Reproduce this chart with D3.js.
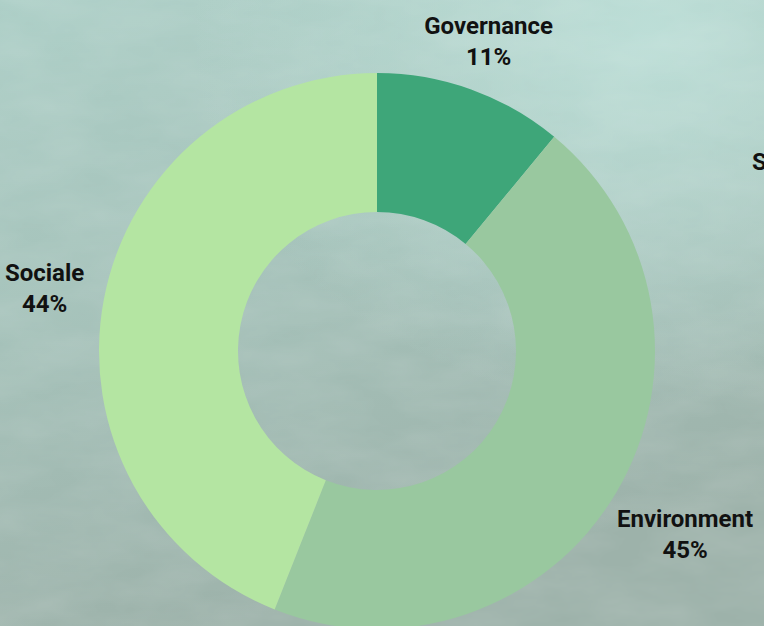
<!DOCTYPE html>
<html>
<head>
<meta charset="utf-8">
<script src="https://cdn.jsdelivr.net/npm/d3@7"></script>
<style>
  html, body { margin: 0; padding: 0; overflow: hidden; }
  svg { display: block; }
  .lbl { font-family: Roboto, "Noto Sans", sans-serif; font-weight: 700; font-size: 24px; fill: #111; }
</style>
</head>
<body>
<svg class="donut" width="764" height="626"></svg>
<script>
const categories = ["Governance", "Environment", "Sociale"];
const values = [11, 45, 44];
const colors = ["#3ea679", "#99c89f", "#b4e5a2"];

const svgElement = d3.select(".donut");
const width = +svgElement.attr("width");
const height = +svgElement.attr("height");

// background: misty green wash
const defs = svgElement.append("defs");
const bg = defs.append("linearGradient").attr("id", "bg")
    .attr("x1", 0).attr("y1", 0).attr("x2", 0.3).attr("y2", 1);
bg.append("stop").attr("offset", "0%").attr("stop-color", "#adcfc7");
bg.append("stop").attr("offset", "45%").attr("stop-color", "#a6c3bb");
bg.append("stop").attr("offset", "100%").attr("stop-color", "#9db2aa");
const glow = defs.append("radialGradient").attr("id", "glow")
    .attr("cx", 0.85).attr("cy", 0.05).attr("r", 0.6);
glow.append("stop").attr("offset", "0%").attr("stop-color", "#c0e2db").attr("stop-opacity", 0.85);
glow.append("stop").attr("offset", "100%").attr("stop-color", "#c0e2db").attr("stop-opacity", 0);
const noise = defs.append("filter").attr("id", "noise");
noise.append("feTurbulence").attr("type", "fractalNoise").attr("baseFrequency", "0.012 0.03").attr("numOctaves", 4).attr("seed", 7);
noise.append("feColorMatrix").attr("values", "0 0 0 0 1  0 0 0 0 1  0 0 0 0 1  0 0 0 0.16 -0.04");

svgElement.append("rect").attr("width", width).attr("height", height).attr("fill", "url(#bg)");
svgElement.append("rect").attr("width", width).attr("height", height).attr("fill", "url(#glow)");
svgElement.append("rect").attr("width", width).attr("height", height).attr("filter", "url(#noise)");

const cx = 377, cy = 351;
const outerR = 278, innerR = 139;

const svg = svgElement.append("g")
    .attr("transform", `translate(${cx}, ${cy})`);

const pie = d3.pie().sort(null).value(d => d.value);
const arcs = pie(categories.map((c, i) => ({ name: c, value: values[i], color: colors[i] })));
const arc = d3.arc().innerRadius(innerR).outerRadius(outerR);

svg.selectAll(".slice")
    .data(arcs)
    .enter().append("path")
    .attr("class", "slice")
    .attr("d", arc)
    .attr("fill", d => d.data.color);

// labels placed outside, pushed along the mid angle until the box clears the ring
const labels = svg.selectAll(".lbl-g")
    .data(arcs)
    .enter().append("g")
    .attr("class", "lbl-g");

labels.append("text").attr("class", "lbl")
    .attr("text-anchor", "middle")
    .attr("y", -15)
    .attr("dy", "0.35em")
    .text(d => d.data.name);
labels.append("text").attr("class", "lbl")
    .attr("text-anchor", "middle")
    .attr("y", 16)
    .attr("dy", "0.35em")
    .text(d => d.data.value + "%");

labels.attr("transform", function (d) {
    const box = this.getBBox();
    const a = (d.startAngle + d.endAngle) / 2;
    const vx = Math.sin(a), vy = -Math.cos(a);
    const hw = box.width / 2 + 2, hh = box.height / 2 + 2;
    const push = Math.min(Math.abs(vx) > 1e-6 ? hw / Math.abs(vx) : Infinity,
                          Math.abs(vy) > 1e-6 ? hh / Math.abs(vy) : Infinity);
    const r = outerR + 18 + push;
    return `translate(${r * vx}, ${r * vy})`;
});

// text cut off by the right edge, as in the original
svgElement.append("text").attr("class", "lbl")
    .attr("x", 752).attr("y", 162).attr("dy", "0.35em")
    .text("S");
</script>
</body>
</html>
